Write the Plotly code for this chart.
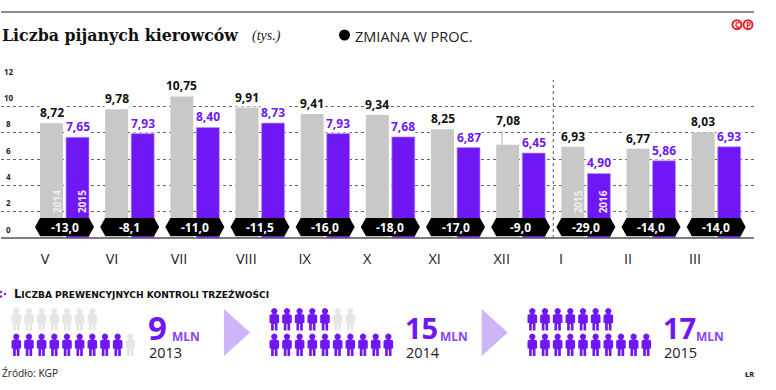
import math
import plotly.graph_objects as go

months = ["V", "VI", "VII", "VIII", "IX", "X", "XI", "XII", "I", "II", "III"]
prev_year = [8.72, 9.78, 10.75, 9.91, 9.41, 9.34, 8.25, 7.08, 6.93, 6.77, 8.03]
curr_year = [7.65, 7.93, 8.40, 8.73, 7.93, 7.68, 6.87, 6.45, 4.90, 5.86, 6.93]
change = ["-13,0", "-8,1", "-11,0", "-11,5", "-16,0", "-18,0", "-17,0", "-9,0", "-29,0", "-14,0", "-14,0"]
y_ticks = [0, 2, 4, 6, 8, 10, 12]
year_tags = {0: ("2014", "2015"), 8: ("2015", "2016")}
control_years = ["2013", "2014", "2015"]
control_mln = [9, 15, 17]

PURPLE = "#6f17f5"
GRAY = "#c8c8c8"
SANS = "Open Sans"
SERIF = "DejaVu Serif"

# layout constants (pixels)
X0, STEP = 64.5, 65.17
L, R, T, B = 1, 754, 80, 238
BAR_W, BAR_OFF = 23.0, 1.5
label_px = [45, 112, 179, 246.3, 304.7, 367.3, 434.7, 501.7, 561, 628, 695]


def xv(px):
    return (px - X0) / STEP


def fmt(v):
    return f"{v:.2f}".replace(".", ",")


idx = list(range(len(months)))
w = BAR_W / STEP

fig = go.Figure()
fig.add_trace(go.Bar(x=idx, y=prev_year, width=w, offset=-(BAR_W + BAR_OFF) / STEP,
                     marker=dict(color=GRAY, line_width=0), hoverinfo="skip"))
fig.add_trace(go.Bar(x=idx, y=curr_year, width=w, offset=BAR_OFF / STEP,
                     marker=dict(color=PURPLE, line=dict(color="#b999f7", width=0.7)), hoverinfo="skip"))

ann = []
shapes = []


def txt(x, y, s, size, color="#111", font=SANS, anchor="left", bold=False, **kw):
    ann.append(dict(xref="x2", yref="y2", x=x, y=y, text=f"<b>{s}</b>" if bold else s, showarrow=False,
                    xanchor=anchor, yanchor="middle", font=dict(size=size, color=color, family=font), **kw))


# y tick labels sit above their grid lines
for v in y_ticks:
    ann.append(dict(xref="x2", yref="y", x=8.5, y=v, yshift=9, text=f"<b>{v}</b>", showarrow=False,
                    xanchor="center", yanchor="middle", font=dict(size=8, color="#222", family=SANS)))

# value labels
for i in idx:
    pc = X0 + STEP * i
    ann.append(dict(xref="x", yref="y", x=xv(pc - BAR_OFF - BAR_W / 2), y=prev_year[i],
                    text=f"<b>{fmt(prev_year[i])}</b>", showarrow=False, yanchor="middle",
                    yshift=24 if months[i] == "XII" else 10.5, bgcolor="white", borderpad=0,
                    font=dict(size=12, color="#111", family=SANS)))
    ann.append(dict(xref="x", yref="y", x=xv(pc + BAR_OFF + BAR_W / 2), y=curr_year[i],
                    text=f"<b>{fmt(curr_year[i])}</b>", showarrow=False, yanchor="middle",
                    yshift=10.5, bgcolor="white", borderpad=0,
                    font=dict(size=12, color=PURPLE, family=SANS)))
    # change pill
    a, b, t, m, d = pc - 29.5, pc + 29.5, 218, 227, 236
    shapes.append(dict(type="path", xref="x2", yref="y2", fillcolor="black", line_width=0, layer="above",
                       path=f"M{a},{m} L{a+5},{t} L{b-5},{t} L{b},{m} L{b-5},{d} L{a+5},{d} Z"))
    txt(pc, 227, change[i], 12, color="white", anchor="center", bold=True)
    if i in year_tags:
        for off, s, col in ((-7.5, year_tags[i][0], "#eeeeee"), (17.5, year_tags[i][1], "#f1e8ff")):
            txt(pc + off, 202, s, 10, color=col, anchor="center", bold=True, textangle=-90)

# leader line for the December label
shapes.append(dict(type="line", xref="x2", yref="y2", x0=502, x1=502, y0=131, y1=145,
                   line=dict(color=GRAY, width=1.5)))
# separator
shapes.append(dict(type="line", xref="x", yref="y", x0=7.5, x1=7.5, y0=0, y1=12,
                   line=dict(color="#555", width=1, dash="dot"), layer="above"))
# baseline and top rule
shapes.append(dict(type="line", xref="x2", yref="y2", x0=L, x1=R, y0=238, y1=238,
                   line=dict(color="#555", width=1.5), layer="above"))
shapes.append(dict(type="line", xref="x2", yref="y2", x0=L, x1=R, y0=12, y1=12,
                   line=dict(color="#666", width=1.5)))

# header
txt(0, 35, "Liczba pijanych kierowców", 15.8, font=SERIF, bold=True)
txt(250, 36, "<i>(tys.)</i>", 14, color="#222", font="Liberation Serif")
shapes.append(dict(type="circle", xref="x2", yref="y2", x0=339, x1=350, y0=29.5, y1=40.5,
                   fillcolor="black", line_width=0))
txt(353, 36, "ZMIANA W PROC.", 14.5, color="#222", font=SANS)
for cx, s in ((737, "C"), (748, "P")):
    shapes.append(dict(type="circle", xref="x2", yref="y2", x0=cx - 4.5, x1=cx + 4.5, y0=20.2, y1=29.2,
                       line=dict(color="#e8202a", width=2)))
    txt(cx, 24.7, s, 8, color="#e8202a", anchor="center", bold=True)

# sub-header
for dx, dy in ((1, 292), (1, 296.5), (5, 294)):
    shapes.append(dict(type="circle", xref="x2", yref="y2", x0=dx - 1.2, x1=dx + 1.2, y0=dy - 1.2, y1=dy + 1.2,
                       fillcolor=PURPLE, line_width=0))
heading = ('<span style="font-size:11.5px">L</span>ICZBA PREWENCYJNYCH KONTROLI TRZEŹWOŚCI')
txt(12, 294, heading, 9.1, color="#111", font="DejaVu Sans", bold=True)


# people icons
def person(cx, top):
    xs, ys = [], []
    for k in range(17):
        th = 2 * math.pi * k / 16
        xs.append(cx + 3.2 * math.cos(th))
        ys.append(top + 3.2 + 3.2 * math.sin(th))
    xs.append(None)
    ys.append(None)
    body = [(-3.4, 6.2), (3.4, 6.2), (4.8, 7.6), (4.8, 15), (3.2, 15), (3.2, 22.5), (0.5, 22.5), (0.5, 16),
            (-0.5, 16), (-0.5, 22.5), (-3.2, 22.5), (-3.2, 15), (-4.8, 15), (-4.8, 7.6), (-3.4, 6.2)]
    xs += [cx + p[0] for p in body] + [None]
    ys += [top + p[1] for p in body] + [None]
    return xs, ys


gx, gy, px_, py_ = [], [], [], []
group_x = [16.3, 274.3, 532.3]
for g, n in enumerate(control_mln):
    # bottom row is filled first, then the upper row
    for k in range(17):
        if k < 10:
            cx, top = group_x[g] + 12.67 * k, 333.5
        else:
            cx, top = group_x[g] + 12.67 * (k - 10), 308
        xs, ys = person(cx, top)
        if k < n:
            px_ += xs
            py_ += ys
        else:
            gx += xs
            gy += ys
for xs, ys, c in ((gx, gy, "#e6e6e6"), (px_, py_, PURPLE)):
    fig.add_trace(go.Scatter(x=xs, y=ys, xaxis="x2", yaxis="y2", mode="lines", fill="toself",
                             fillcolor=c, line=dict(width=0, color=c), hoverinfo="skip"))

# arrows
for ax in (224, 481.7):
    shapes.append(dict(type="path", xref="x2", yref="y2", fillcolor="#cdb5f8", line_width=0,
                       path=f"M{ax},309 L{ax+26},332.5 L{ax},356 Z"))

# control numbers
num_x = [148, 405, 663]
mln_x = [170, 438, 694]
for k in range(3):
    n = str(control_mln[k])
    txt(num_x[k] - 2, 327, n, 33 if len(n) == 1 else 29, color=PURPLE, bold=True)
    txt(mln_x[k], 336, "<b>MLN</b>", 12, color="#8a45f5")
    txt(num_x[k] - 1, 352, control_years[k], 14.5, color="#222")

# footer
txt(0, 373, "Źródło: KGP", 10.2, color="#222")
txt(743, 374, "ŁR", 7.5, color="#222", bold=True)

fig.update_layout(
    width=776, height=390, margin=dict(l=0, r=0, t=0, b=0), autosize=False,
    paper_bgcolor="white", plot_bgcolor="rgba(0,0,0,0)", showlegend=False, barmode="overlay",
    annotations=ann, shapes=shapes, font=dict(family=SANS),
    xaxis=dict(domain=[L / 776, R / 776], range=[xv(L), xv(R)], tickmode="array",
               tickvals=[xv(p) for p in label_px], ticktext=months, showgrid=False, zeroline=False,
               ticks="outside", ticklen=8, tickcolor="rgba(0,0,0,0)", showline=False,
               tickfont=dict(size=14.5, color="#222", family=SANS)),
    yaxis=dict(domain=[(390 - B) / 390, (390 - T) / 390], range=[0, 12], tickmode="array", tickvals=y_ticks,
               showgrid=True, gridcolor="#666", griddash="dot", gridwidth=1, zeroline=False, showline=False,
               showticklabels=False),
    xaxis2=dict(domain=[0, 1], range=[0, 776], visible=False, anchor="y2"),
    yaxis2=dict(domain=[0, 1], range=[390, 0], visible=False, anchor="x2"),
)
fig.write_html("out.html", config=dict(displayModeBar=False),
               post_script="document.body.style.margin='0';document.body.style.overflow='hidden';")
